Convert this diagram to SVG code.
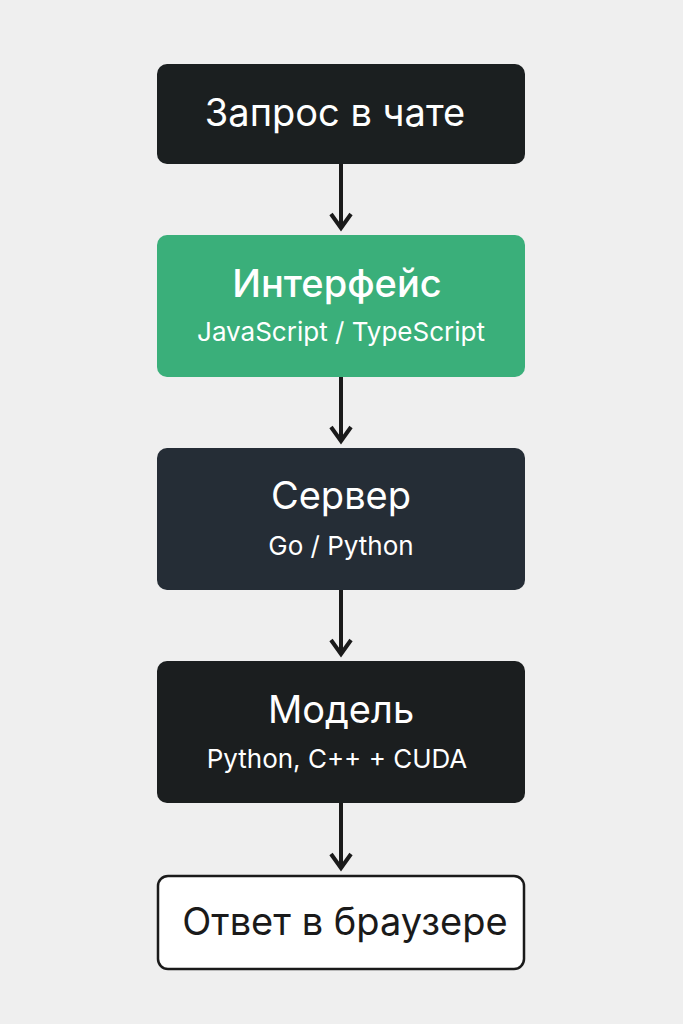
<svg xmlns="http://www.w3.org/2000/svg" width="683" height="1024" viewBox="0 0 683 1024">
<style>
.t{font-family:"Inter","Liberation Sans",sans-serif;font-size:38px;fill:#fff;text-anchor:middle;dominant-baseline:middle}
.s{font-family:"Inter","Liberation Sans",sans-serif;font-size:26px;fill:#fff;text-anchor:middle;dominant-baseline:middle}
.c{stroke:#1a1a1a;stroke-width:4;fill:none}
</style>
<rect width="683" height="1024" fill="#efefef"/>
<g id="connectors">
<path class="c" d="M341 164V228"/><path class="c" d="M331 214L341 228L351 214"/>
<path class="c" d="M341 377V441"/><path class="c" d="M331 427L341 441L351 427"/>
<path class="c" d="M341 590V654"/><path class="c" d="M331 640L341 654L351 640"/>
<path class="c" d="M341 803V868"/><path class="c" d="M331 854L341 868L351 854"/>
</g>
<g id="n1"><rect x="157" y="64" width="368" height="100" rx="10" fill="#1b1f20"/><text class="t" x="335" y="116">Запрос в чате</text></g>
<g id="n2"><rect x="157" y="235" width="368" height="142" rx="10" fill="#3aaf7a"/><text class="t" x="337" y="287" style="font-weight:500">Интерфейс</text><text class="s" x="341" y="334">JavaScript / TypeScript</text></g>
<g id="n3"><rect x="157" y="448" width="368" height="142" rx="10" fill="#252d36"/><text class="t" x="341" y="499">Сервер</text><text class="s" x="341" y="548">Go / Python</text></g>
<g id="n4"><rect x="157" y="661" width="368" height="142" rx="10" fill="#1b1e1f"/><text class="t" x="341" y="713">Модель</text><text class="s" x="337" y="761">Python, C++ + CUDA</text></g>
<g id="n5"><rect x="158" y="876" width="366" height="93" rx="10" fill="#fff" stroke="#1a1a1a" stroke-width="2.5"/><text class="t" x="345" y="925" style="fill:#1a1a1a">Ответ в браузере</text></g>
</svg>
